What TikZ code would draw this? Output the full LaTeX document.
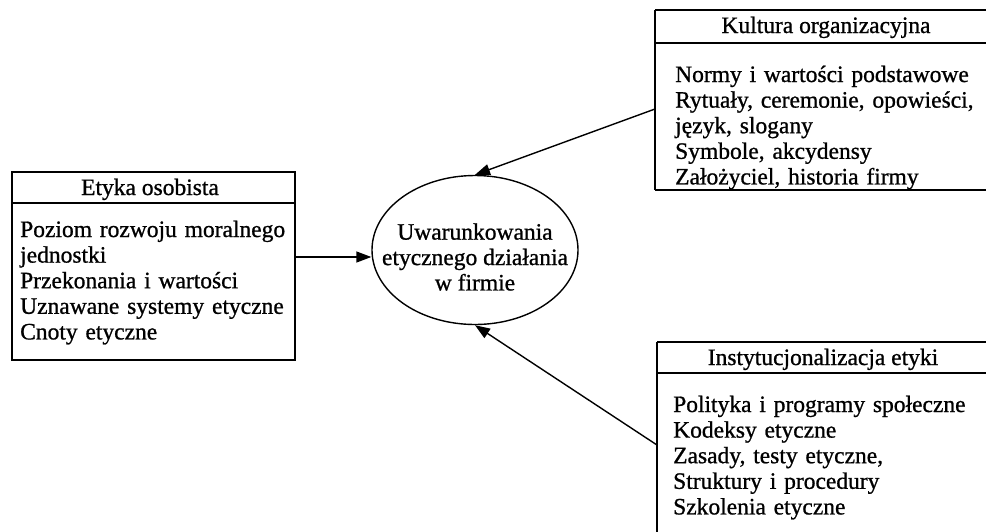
\documentclass[tikz,border=0pt]{standalone}
\usepackage{fontspec}
\setmainfont{Liberation Serif}[FakeBold=0.9]
\usetikzlibrary{shapes.geometric,arrows.meta}
\begin{document}
\begin{tikzpicture}[x=1pt,y=-1pt,
  box/.style={draw,line width=1.6pt},
  body/.style={font=\fontsize{23.5}{25.6}\selectfont, inner sep=0pt, align=left, text width=300pt, anchor=base west},
  hdr/.style={font=\fontsize{23.5}{25.6}\selectfont, inner sep=0pt, anchor=base},
  arr/.style={line width=1.4pt, -{Triangle[length=15pt,width=11pt]}}]
\useasboundingbox (0,0) rectangle (986,531);
% left box
\draw[box] (12,172) rectangle (295,360);
\draw[box] (12,203) -- (295,203);
\node[hdr] (lh) at (150,195) {Etyka osobista};
\node[body] (lb) at (20,237) {Poziom rozwoju moralnego\\jednostki\\Przekonania i wartości\\Uznawane systemy etyczne\\Cnoty etyczne};
% top right box
\draw[box] (655,10) -- (997,10) (655,43) -- (997,43) (655,190) -- (997,190) (655,10) -- (655,190);
\node[hdr] (th) at (826,33) {Kultura organizacyjna};
\node[body] (tb) at (675,82) {Normy i wartości podstawowe\\Rytuały, ceremonie, opowieści,\\język, slogany\\Symbole, akcydensy\\Założyciel, historia firmy};
% bottom right box
\draw[box] (657,342) -- (997,342) (657,373) -- (997,373) (657,342) -- (657,540);
\node[hdr] (bh) at (823,365) {Instytucjonalizacja etyki};
\node[body] (bb) at (673,412) {Polityka i programy społeczne\\Kodeksy etyczne\\Zasady, testy etyczne,\\Struktury i procedury\\Szkolenia etyczne};
% ellipse
\node[draw, ellipse, line width=1.4pt, minimum width=206pt, minimum height=149pt, inner sep=0pt] (ell) at (475,250) {};
\node[font=\fontsize{23.5}{25.4}\selectfont, align=center, inner sep=0pt] (elltxt) at (475,257) {Uwarunkowania\\etycznego działania\\w firmie};
% connectors
\coordinate (ls) at (295,257);
\coordinate (ts) at (655,109);
\coordinate (bs) at (657,445);
\draw[arr] (ls) -- (ls -| ell.west);
\draw[arr] (ts) -- (ell.north);
\draw[arr] (bs) -- (ell.south);
\end{tikzpicture}
\end{document}
